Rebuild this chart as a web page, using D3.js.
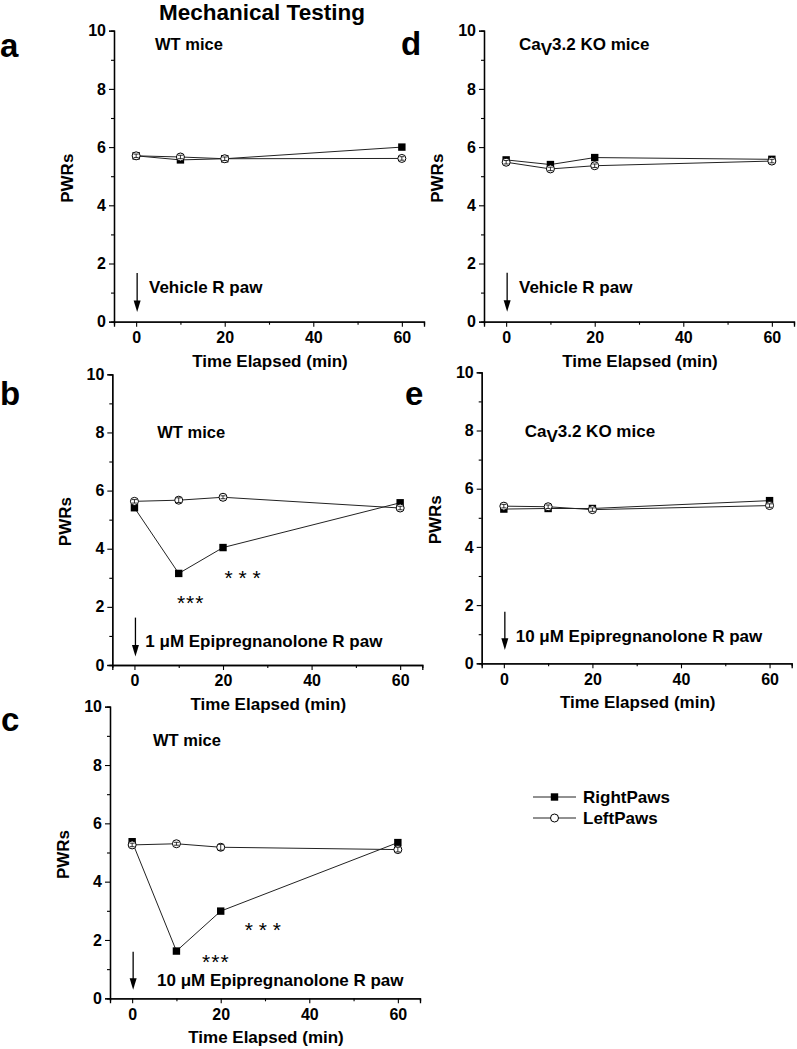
<!DOCTYPE html>
<html>
<head>
<meta charset="utf-8">
<script src="https://cdn.jsdelivr.net/npm/d3@7"></script>
<style>
  html, body { margin: 0; padding: 0; background: #fff; }
  svg { display: block; font-family: "Liberation Sans", Arial, sans-serif; font-weight: bold; }
</style>
</head>
<body>
<svg id="chart" width="797" height="1049"></svg>
<script>
// ---------- data ----------
const times = [0, 10, 20, 60];

const aRight = [5.70, 5.56, 5.60, 6.00];
const aLeft  = [5.70, 5.66, 5.60, 5.61];
const bRight = [5.41, 3.15, 4.04, 5.58];
const bLeft  = [5.63, 5.67, 5.77, 5.40];
const cRight = [5.37, 1.62, 2.99, 5.34];
const cLeft  = [5.26, 5.30, 5.18, 5.10];
const dRight = [5.56, 5.40, 5.64, 5.58];
const dLeft  = [5.48, 5.25, 5.36, 5.52];
const eRight = [5.30, 5.32, 5.32, 5.59];
const eLeft  = [5.40, 5.38, 5.28, 5.42];

const aLeftErr  = [0.06, 0.06, 0.06, 0.06];
const bLeftErr  = [0.06, 0.08, 0.05, 0.06];
const cLeftErr  = [0.06, 0.05, 0.10, 0.08];
const dLeftErr  = [0.06, 0.06, 0.06, 0.06];
const eLeftErr  = [0.06, 0.06, 0.06, 0.06];

const xTicks = [0, 20, 40, 60];
const xMinorTicks = [10, 30, 50];
const yTicks = [0, 2, 4, 6, 8, 10];
const yMinorTicks = [1, 3, 5, 7, 9];
const xDomain = [-5, 65];
const yDomain = [0, 10];

const seriesNames = ["RightPaws", "LeftPaws"];
const panelLetters = ["a", "b", "c", "d", "e"];
const mouseLabels = ["WT mice", "WT mice", "WT mice", "KO", "KO"];
const treatmentLabels = ["Vehicle R paw", "1 \u03BCM Epipregnanolone R paw", "10 \u03BCM Epipregnanolone R paw", "Vehicle R paw", "10 \u03BCM Epipregnanolone R paw"];
const xTitle = "Time Elapsed (min)";
const yTitle = "PWRs";
const mainTitle = "Mechanical Testing";

// significance marks
const sigPanels = ["b", "b", "c", "c"];
const sigX = [12.7, 24.4, 18.9, 29.5];
const sigY = [2.3, 3.16, 1.42, 2.51];
const sigText = ["***", "* * *", "***", "* * *"];

// ---------- layout ----------
const layout = {
  a: { left: 114,   top: 30.7,  bottom: 321.7, letterX: 0,   letterY: 57,  labelDX: 41, labelY: 9.55, treatDX: 35, treatY: 0.98, arrTop: 1.67, arrBot: 0.33 },
  b: { left: 112.3, top: 374.3, bottom: 665,   letterX: 0,   letterY: 405, labelDX: 45, labelY: 8.0,  treatDX: 33, treatY: 0.63, arrTop: 1.63, arrBot: 0.29 },
  c: { left: 110,   top: 706.7, bottom: 998.3, letterX: 1,   letterY: 731, labelDX: 43, labelY: 8.85, treatDX: 47, treatY: 0.43, arrTop: 1.60, arrBot: 0.29 },
  d: { left: 484,   top: 30.7,  bottom: 321.7, letterX: 401, letterY: 55,  labelDX: 35, labelY: 9.55, treatDX: 35, treatY: 0.99, arrTop: 1.68, arrBot: 0.34 },
  e: { left: 481.7, top: 372.3, bottom: 663.3, letterX: 405, letterY: 405, labelDX: 43, labelY: 8.0,  treatDX: 34, treatY: 0.74, arrTop: 1.77, arrBot: 0.46 }
};
const plotWidth = 310;

const dataMap = {
  a: [aRight, aLeft, aLeftErr],
  b: [bRight, bLeft, bLeftErr],
  c: [cRight, cLeft, cLeftErr],
  d: [dRight, dLeft, dLeftErr],
  e: [eRight, eLeft, eLeftErr]
};

const svg = d3.select("#chart");

svg.append("text")
  .attr("x", 262).attr("y", 20)
  .attr("text-anchor", "middle")
  .attr("font-size", 22.5)
  .text(mainTitle);

panelLetters.forEach((id, i) => {
  const L = layout[id];
  const x = d3.scaleLinear().domain(xDomain).range([L.left, L.left + plotWidth]);
  const y = d3.scaleLinear().domain(yDomain).range([L.bottom, L.top]);
  const g = svg.append("g");

  svg.append("text").attr("x", L.letterX).attr("y", L.letterY)
    .attr("font-size", 33).text(id);

  const yAxis = d3.axisLeft(y).tickValues(yTicks).tickSize(5).tickPadding(3).tickFormat(d3.format("d"));
  const yMinor = d3.axisLeft(y).tickValues(yMinorTicks).tickSize(3).tickFormat("");
  const xAxis = d3.axisBottom(x).tickValues(xTicks).tickSize(5).tickPadding(5).tickFormat(d3.format("d"));
  const xMinor = d3.axisBottom(x).tickValues(xMinorTicks).tickSize(3).tickFormat("");

  [[yAxis, `translate(${L.left},0)`], [yMinor, `translate(${L.left},0)`],
   [xAxis, `translate(0,${L.bottom})`], [xMinor, `translate(0,${L.bottom})`]].forEach(([ax, tr]) => {
    const a = g.append("g").attr("transform", tr).call(ax);
    a.selectAll("path").attr("stroke", "#000").attr("stroke-width", 1.3);
    a.selectAll("line").attr("stroke", "#000").attr("stroke-width", 1.1);
    a.selectAll("text").attr("font-size", 16).attr("font-weight", "bold")
      .attr("font-family", "'Liberation Sans', Arial, sans-serif").attr("fill", "#000");
  });

  g.append("text")
    .attr("x", L.left + 156).attr("y", L.bottom + 45)
    .attr("text-anchor", "middle").attr("font-size", 17)
    .text(xTitle);
  g.append("text")
    .attr("transform", `translate(${L.left - 41},${(L.top + L.bottom) / 2 + 2}) rotate(-90)`)
    .attr("text-anchor", "middle").attr("font-size", 17)
    .text(yTitle);

  const ml = g.append("text").attr("x", L.left + L.labelDX).attr("y", y(L.labelY) + 6);
  if (mouseLabels[i] === "KO") {
    ml.attr("font-size", 17);
    ml.append("tspan").text("Ca");
    ml.append("tspan").attr("dy", 5).text("V");
    ml.append("tspan").attr("dy", -5).text("3.2 KO mice");
  } else {
    ml.attr("font-size", 16.5).text(mouseLabels[i]);
  }

  const ax0 = x(0) + 1;
  g.append("line").attr("x1", ax0).attr("x2", ax0)
    .attr("y1", y(L.arrTop)).attr("y2", y(L.arrBot + 0.3))
    .attr("stroke", "#000").attr("stroke-width", 1.3);
  g.append("path")
    .attr("d", `M${ax0 - 3.5},${y(L.arrBot + 0.4)} L${ax0 + 3.5},${y(L.arrBot + 0.4)} L${ax0},${y(L.arrBot)} Z`)
    .attr("fill", "#000");
  g.append("text").attr("x", L.left + L.treatDX).attr("y", y(L.treatY)).attr("font-size", 17)
    .text(treatmentLabels[i]);

  const [right, left, lErr] = dataMap[id];
  const line = d3.line().x((d, k) => x(times[k])).y(d => y(d));
  g.append("path").datum(right).attr("d", line).attr("fill", "none").attr("stroke", "#222").attr("stroke-width", 1);
  g.append("path").datum(left).attr("d", line).attr("fill", "none").attr("stroke", "#222").attr("stroke-width", 1);

  g.selectAll(null).data(right).enter().append("rect")
    .attr("x", (d, k) => x(times[k]) - 3.7).attr("y", d => y(d) - 3.7)
    .attr("width", 7.4).attr("height", 7.4).attr("fill", "#000");
  g.selectAll(null).data(left).enter().append("circle")
    .attr("cx", (d, k) => x(times[k])).attr("cy", d => y(d)).attr("r", 4)
    .attr("fill", "#fff").attr("stroke", "#000").attr("stroke-width", 1);

  left.forEach((v, k) => {
    const cx = x(times[k]);
    const e = lErr[k];
    g.append("line").attr("x1", cx).attr("x2", cx).attr("y1", y(v - e)).attr("y2", y(v + e))
      .attr("stroke", "#000").attr("stroke-width", 0.8);
    [v - e, v + e].forEach(t => {
      g.append("line").attr("x1", cx - 2.5).attr("x2", cx + 2.5).attr("y1", y(t)).attr("y2", y(t))
        .attr("stroke", "#000").attr("stroke-width", 0.8);
    });
  });

  sigPanels.forEach((p, k) => {
    if (p !== id) return;
    g.append("text").attr("x", x(sigX[k])).attr("y", y(sigY[k]) + 12)
      .attr("text-anchor", "middle").attr("font-size", 21)
      .attr("font-weight", "normal")
      .attr("letter-spacing", sigText[k] === "***" ? 1 : 0)
      .text(sigText[k]);
  });
});

// ---------- legend ----------
const legY = [797, 818];
const lg = svg.append("g");
seriesNames.forEach((name, i) => {
  const yy = legY[i];
  lg.append("line").attr("x1", 533).attr("x2", 576).attr("y1", yy).attr("y2", yy)
    .attr("stroke", "#222").attr("stroke-width", 1);
  if (i === 0) {
    lg.append("rect").attr("x", 554.5 - 3.7).attr("y", yy - 3.7).attr("width", 7.4).attr("height", 7.4).attr("fill", "#000");
  } else {
    lg.append("circle").attr("cx", 554.5).attr("cy", yy).attr("r", 4).attr("fill", "#fff").attr("stroke", "#000");
  }
  lg.append("text").attr("x", 583).attr("y", yy + 5.5).attr("font-size", 17).text(name);
});
</script>
</body>
</html>
